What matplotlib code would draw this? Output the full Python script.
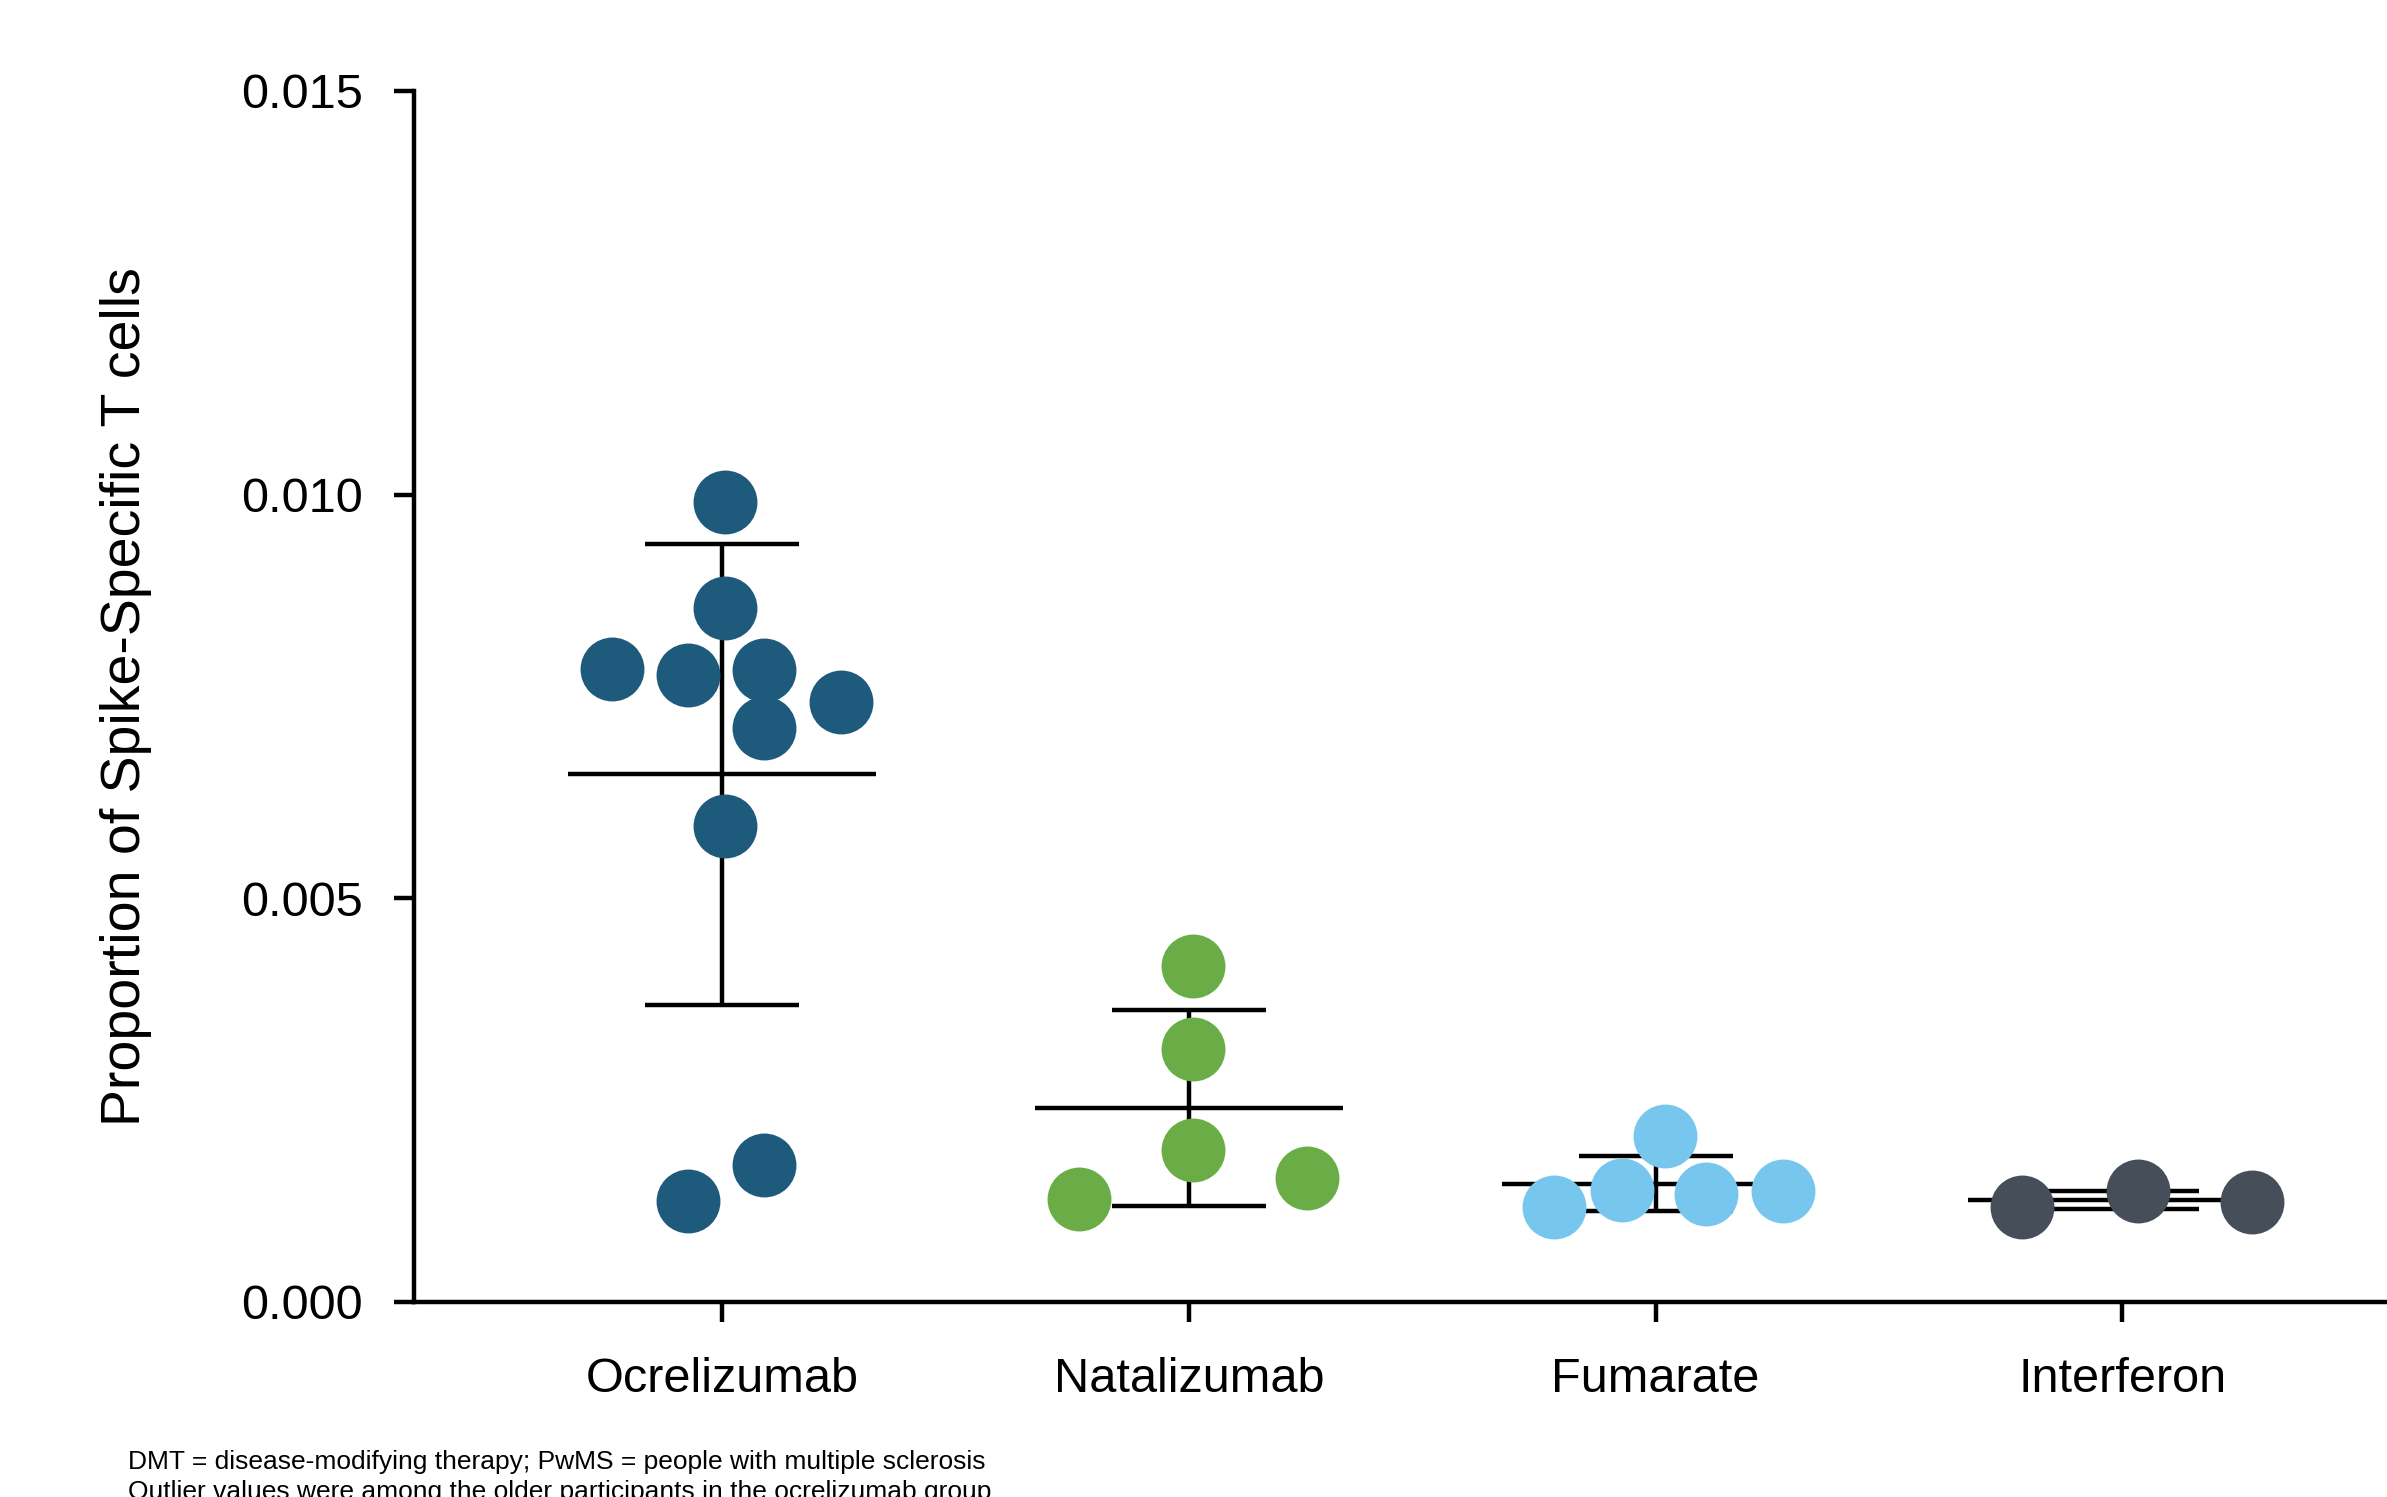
import matplotlib.pyplot as plt
import numpy as np

plt.rcParams['font.family'] = ['Liberation Sans', 'DejaVu Sans']

# --- Data ---
groups = ["Ocrelizumab", "Natalizumab", "Fumarate", "Interferon"]
colors = ["#1E5A7C", "#6AAC46", "#77C6EE", "#464F59"]

ocre_vals = [0.00991, 0.00860, 0.00784, 0.00777, 0.00783, 0.00743, 0.00711, 0.00590, 0.00169, 0.00125]
ocre_jit = [0.006, 0.006, -0.236, -0.073, 0.09, 0.255, 0.09, 0.006, 0.09, -0.073]

nata_vals = [0.00416, 0.00313, 0.00188, 0.00128, 0.00154]
nata_jit = [0.01, 0.01, 0.01, -0.235, 0.254]

fuma_vals = [0.00205, 0.00139, 0.00134, 0.00117, 0.00137]
fuma_jit = [0.02, -0.072, 0.108, -0.218, 0.274]

inter_vals = [0.00117, 0.00138, 0.00124]
inter_jit = [-0.215, 0.033, 0.277]

values = [ocre_vals, nata_vals, fuma_vals, inter_vals]
jitter = [ocre_jit, nata_jit, fuma_jit, inter_jit]

yticks = [0.000, 0.005, 0.010, 0.015]
ytick_labels = ["0.000", "0.005", "0.010", "0.015"]

footnotes = [
    "DMT = disease-modifying therapy; PwMS = people with multiple sclerosis",
    "Outlier values were among the older participants in the ocrelizumab group",
]

# --- Figure ---
fig = plt.figure(figsize=(23.87, 14.97), dpi=100)
ax = fig.add_axes([0.1734, 0.1303, 0.8266, 0.809])

LW = 3.2
for i, (vals, jit, col) in enumerate(zip(values, jitter, colors)):
    v = np.array(vals)
    m = v.mean()
    sd = v.std(ddof=1)
    # mean line and SD whiskers
    ax.plot([i - 0.33, i + 0.33], [m, m], color="black", lw=LW, zorder=2, solid_capstyle="butt")
    ax.plot([i, i], [m - sd, m + sd], color="black", lw=LW, zorder=2, solid_capstyle="butt")
    for y in (m - sd, m + sd):
        ax.plot([i - 0.165, i + 0.165], [y, y], color="black", lw=LW, zorder=2, solid_capstyle="butt")
    # points
    ax.plot(i + np.array(jit), v, "o", ms=46, color=col, mec="none", zorder=3, clip_on=False)

ax.set_xlim(-0.66, 3.567)
ax.set_ylim(0, 0.015)
ax.set_xticks(range(len(groups)))
ax.set_xticklabels(groups)
ax.set_yticks(yticks)
ax.set_yticklabels(ytick_labels)

ax.spines["top"].set_visible(False)
ax.spines["right"].set_visible(False)
for s in ("left", "bottom"):
    ax.spines[s].set_linewidth(LW)
ax.tick_params(axis="both", length=14.5, width=LW, labelsize=35)
ax.tick_params(axis="y", pad=22)
ax.tick_params(axis="x", pad=25)

fig.text(0.0528, 0.5347, "Proportion of Spike-Specific T cells", rotation=90,
         ha="center", va="center", fontsize=40)

fig.text(0.0536, 1 - 1469 / 1497, footnotes[0], fontsize=19, va="baseline", ha="left")
fig.text(0.0536, 1 - 1499 / 1497, footnotes[1], fontsize=19, va="baseline", ha="left")

fig.savefig("out.png", dpi=100)
